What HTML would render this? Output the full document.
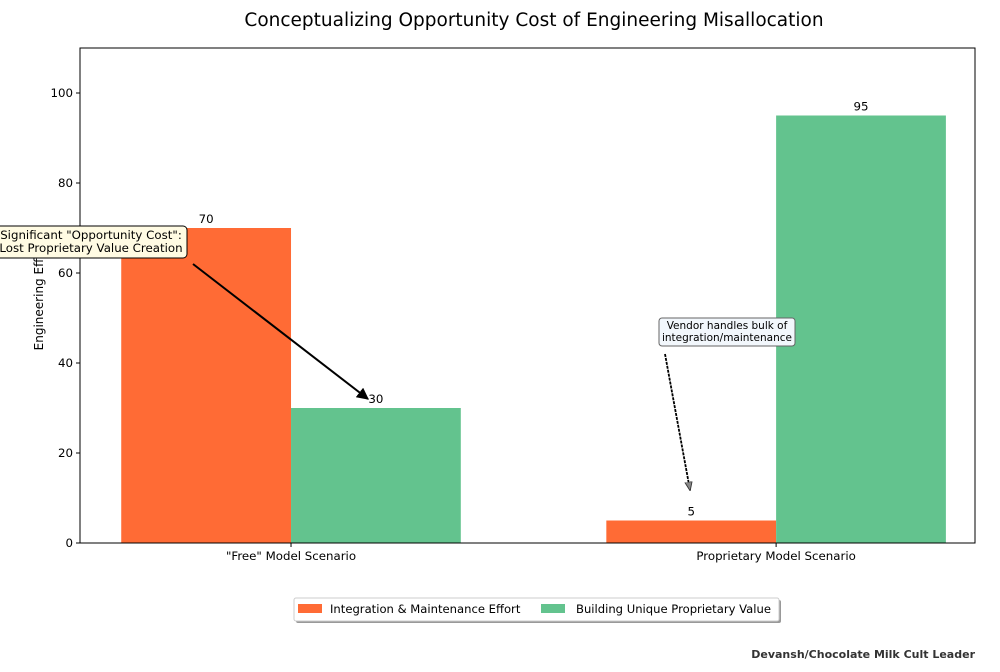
<!DOCTYPE html>
<html><head><meta charset="utf-8"><style>
body{margin:0;background:#fff}
svg text{font-family:"DejaVu Sans","Liberation Sans",sans-serif}
</style></head><body>
<svg id="chart" width="1000" height="667" viewBox="0 0 1000 667">
<defs>
<marker id="ah" viewBox="0 0 10 10" refX="9" refY="5" markerWidth="6" markerHeight="6" orient="auto"><path d="M0,0L10,5L0,10z" fill="#000"/></marker>
<marker id="ah2" viewBox="0 0 10 10" refX="9" refY="5" markerWidth="5" markerHeight="5" orient="auto"><path d="M0,1L10,5L0,9z" fill="#888" stroke="#333" stroke-width="1"/></marker>
</defs>
<text x="534" y="26" font-size="18.5" text-anchor="middle">Conceptualizing Opportunity Cost of Engineering Misallocation</text>
<g id="bars"></g>
<g id="yticks"></g>
<rect x="80" y="48" width="895" height="495" fill="none" stroke="#000" stroke-width="1"/>
<text transform="translate(43,296) rotate(-90)" font-size="12" text-anchor="middle">Engineering Effort</text>
<g>
<line x1="193" y1="264" x2="368" y2="399" stroke="#000" stroke-width="2" marker-end="url(#ah)"/>
<rect x="-6" y="226" width="193" height="32" rx="4" fill="#fffbe3" stroke="#000" stroke-width="1"/>
<text x="91" y="239" font-size="11.8" text-anchor="middle">Significant "Opportunity Cost":</text>
<text x="91" y="252" font-size="11.8" text-anchor="middle">Lost Proprietary Value Creation</text>
</g>
<g>
<line x1="665" y1="354" x2="690" y2="490" stroke="#000" stroke-width="1.8" stroke-dasharray="3,1" marker-end="url(#ah2)"/>
<rect x="659" y="318" width="136" height="28" rx="3" fill="#f2f7fc" stroke="#666" stroke-width="1"/>
<text x="727" y="329" font-size="10.5" text-anchor="middle">Vendor handles bulk of</text>
<text x="727" y="341" font-size="10.5" text-anchor="middle">integration/maintenance</text>
</g>
<g>
<rect x="296" y="600" width="485" height="23" rx="2" fill="#999"/>
<rect x="294" y="598" width="485" height="23" rx="2" fill="#fff" stroke="#ccc"/>
<rect x="298" y="604" width="24" height="9" fill="#ff6b35"/>
<text x="330" y="613" font-size="11.6">Integration &amp; Maintenance Effort</text>
<rect x="541" y="604" width="24" height="9" fill="#63c38e"/>
<text x="576" y="613" font-size="11.6">Building Unique Proprietary Value</text>
</g>
<text x="975" y="658" font-size="11" font-weight="bold" fill="#333" text-anchor="end">Devansh/Chocolate Milk Cult Leader</text>
</svg>
<script>
const categories = ['"Free" Model Scenario', 'Proprietary Model Scenario'];
const integration = [70, 5];
const proprietary = [30, 95];
const yTicks = [0, 20, 40, 60, 80, 100];
const NS = 'http://www.w3.org/2000/svg';
const yMin = 0, yMax = 110, pTop = 48, pBot = 543;
const xMin = -0.435, xMax = 1.41, pL = 80, pR = 975;
const ys = v => pBot - (v - yMin) / (yMax - yMin) * (pBot - pTop);
const xs = v => pL + (v - xMin) / (xMax - xMin) * (pR - pL);
const bw = 0.35;
function mk(tag, attrs, parent, txt) {
  const e = document.createElementNS(NS, tag);
  for (const k in attrs) e.setAttribute(k, attrs[k]);
  if (txt !== undefined) e.textContent = txt;
  parent.appendChild(e);
  return e;
}
const bars = document.getElementById('bars');
const yt = document.getElementById('yticks');
const series = [[integration, '#ff6b35', -1, 'integration'], [proprietary, '#63c38e', 0, 'proprietary']];
categories.forEach((c, i) => {
  series.forEach(([vals, col, off, nm]) => {
    const x0 = xs(i + off * bw), x1 = xs(i + (off + 1) * bw);
    const r = mk('rect', {x: x0, y: ys(vals[i]), width: x1 - x0, height: ys(0) - ys(vals[i]), fill: col}, bars);
    
    
    const t = mk('text', {x: (x0 + x1) / 2, y: ys(vals[i]) - 5, 'font-size': 11.8, 'text-anchor': 'middle'}, bars, String(vals[i]));
    
    
  });
  const cx = xs(i);
  mk('line', {x1: cx, x2: cx, y1: pBot, y2: pBot + 4, stroke: '#000'}, yt);
  const t = mk('text', {x: cx, y: pBot + 17, 'font-size': 11.8, 'text-anchor': 'middle'}, yt, c);
  
  
});
yTicks.forEach(v => {
  const y = ys(v);
  mk('line', {x1: pL - 4, x2: pL, y1: y, y2: y, stroke: '#000'}, yt);
  const t = mk('text', {x: pL - 7, y: y + 4, 'font-size': 11.8, 'text-anchor': 'end'}, yt, String(v));
  
  
});
</script>
</body></html>
